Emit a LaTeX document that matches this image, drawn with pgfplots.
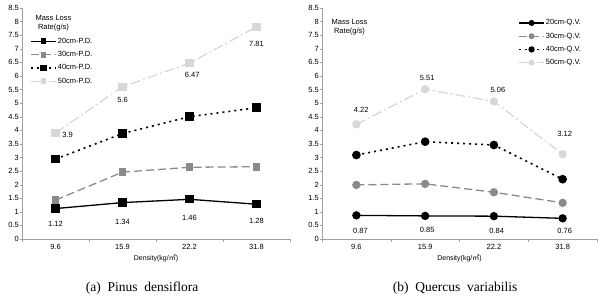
\documentclass[border=0pt]{standalone}
\usepackage{fontspec}
\setmainfont{Liberation Sans}
\newfontfamily\capfont{Liberation Serif}
\newfontfamily\cjk{Noto Sans CJK KR}
\usepackage{pgfplots}
\pgfplotsset{compat=1.18}
\definecolor{cmid}{HTML}{8A8A8A}
\definecolor{clight}{HTML}{D8D8D8}
\definecolor{caxis}{HTML}{A0A0A0}
\pgfplotsset{
  mystyle/.style={
    scale only axis, height=231pt,
    xmin=-0.5, xmax=3.5, ymin=0, ymax=8.5,
    axis x line*=bottom, axis y line*=left,
    axis line style={caxis, line width=0.6pt},
    xtick={0,1,2,3}, xticklabels={9.6,15.9,22.2,31.8},
    major x tick style={draw=none},
    minor xtick={-0.5,0.5,1.5,2.5,3.5},
    minor x tick style={caxis},
    ytick={0,0.5,1,1.5,2,2.5,3,3.5,4,4.5,5,5.5,6,6.5,7,7.5,8,8.5},
    yticklabels={0,0.5,1,1.5,2,2.5,3,3.5,4,4.5,5,5.5,6,6.5,7,7.5,8,8.5},
    y tick style={caxis},
    tick align=outside, major tick length=2pt, minor tick length=3pt,
    tick label style={font=\fontsize{7.5}{8}\selectfont},
    yticklabel style={inner sep=1pt},
    /pgf/number format/assume math mode=true,
    xlabel={Density(kg/{\cjk ㎡})},
    xlabel style={font=\fontsize{7}{8}\selectfont, inner sep=1pt},
    clip=false,
    legend cell align=left,
    legend image code/.code={\draw[mark repeat=2,mark phase=2, mark size=2.3pt] plot coordinates {(0pt,0pt) (12.5pt,0pt) (25pt,0pt)};},
    legend style={draw=none, fill=none, font=\fontsize{7.5}{9}\selectfont, row sep=4.5pt, inner sep=0pt,
      nodes={inner sep=1pt}},
  },
  s20/.style={black, solid, line width=1.3pt, mark options={solid}},
  s30/.style={cmid, dashed, dash pattern=on 8pt off 4pt, line width=1.3pt, mark options={solid}},
  s40/.style={black, line width=1.6pt, dash pattern=on 2pt off 4pt, mark options={solid}},
  s50/.style={clight, line width=1.3pt, dash pattern=on 10pt off 3pt on 2pt off 3pt, mark options={solid}},
}
\begin{document}
\begin{tikzpicture}
\useasboundingbox (0,0) rectangle (604pt,300pt);
% (a)
\begin{axis}[mystyle, width=268pt, at={(22pt,61pt)}, anchor=south west,
  legend style={at={(0.03,0.875)}, anchor=north west}]
\addplot[s20, mark=square*, mark size=3.5pt] coordinates {(0,1.12) (1,1.34) (2,1.46) (3,1.28)};
\addplot[s30, mark=square*, mark size=3.2pt] coordinates {(0,1.43) (1,2.46) (2,2.64) (3,2.66)};
\addplot[s40, mark=square*, mark size=3.5pt] coordinates {(0,2.94) (1,3.88) (2,4.50) (3,4.83)};
\addplot[s50, mark=square*, mark size=3.5pt] coordinates {(0,3.90) (1,5.60) (2,6.47) (3,7.81)};
\legend{20cm-P.D.,30cm-P.D.,40cm-P.D.,50cm-P.D.}
\node[font=\fontsize{7.5}{9}\selectfont, align=center] at (axis cs:-0.03,7.95) {Mass Loss\\Rate(g/s)};
\begin{scope}[every node/.style={font=\fontsize{7.5}{8}\selectfont}]
\node at (axis cs:0,0.55) {1.12};
\node at (axis cs:1,0.64) {1.34};
\node at (axis cs:2,0.78) {1.46};
\node at (axis cs:3,0.66) {1.28};
\node at (axis cs:0.18,3.82) {3.9};
\node at (axis cs:1,5.11) {5.6};
\node at (axis cs:2.04,6.02) {6.47};
\node at (axis cs:3,7.19) {7.81};
\end{scope}
\node[font=\capfont\fontsize{13.5}{15}\selectfont] at (rel axis cs:0.448,0) [yshift=-49pt] {(a)\ \ Pinus\ \ densiflora};
\end{axis}
% (b)
\begin{axis}[mystyle, width=275pt, at={(322pt,61pt)}, anchor=south west,
  legend style={at={(0.713,0.955)}, anchor=north west}]
\addplot[s20, mark=*, mark size=3.5pt] coordinates {(0,0.87) (1,0.85) (2,0.84) (3,0.76)};
\addplot[s30, mark=*, mark size=3.5pt] coordinates {(0,1.99) (1,2.03) (2,1.72) (3,1.33)};
\addplot[s40, mark=*, mark size=3.5pt] coordinates {(0,3.09) (1,3.58) (2,3.46) (3,2.20)};
\addplot[s50, mark=*, mark size=3.5pt] coordinates {(0,4.22) (1,5.51) (2,5.06) (3,3.12)};
\legend{20cm-Q.V.,30cm-Q.V.,40cm-Q.V.,50cm-Q.V.}
\node[font=\fontsize{7.5}{9}\selectfont, align=center] at (axis cs:-0.1,7.8) {Mass Loss\\Rate(g/s)};
\begin{scope}[every node/.style={font=\fontsize{7.5}{8}\selectfont}]
\node at (axis cs:0.06,0.29) {0.87};
\node at (axis cs:1.03,0.33) {0.85};
\node at (axis cs:2.04,0.29) {0.84};
\node at (axis cs:3.03,0.29) {0.76};
\node at (axis cs:0.07,4.74) {4.22};
\node at (axis cs:1.03,5.93) {5.51};
\node at (axis cs:2.06,5.50) {5.06};
\node at (axis cs:3.03,3.85) {3.12};
\end{scope}
\node[font=\capfont\fontsize{13.5}{15}\selectfont] at (rel axis cs:0.484,0) [yshift=-49pt] {(b)\ \ Quercus\ \ variabilis};
\end{axis}
\end{tikzpicture}
\end{document}
